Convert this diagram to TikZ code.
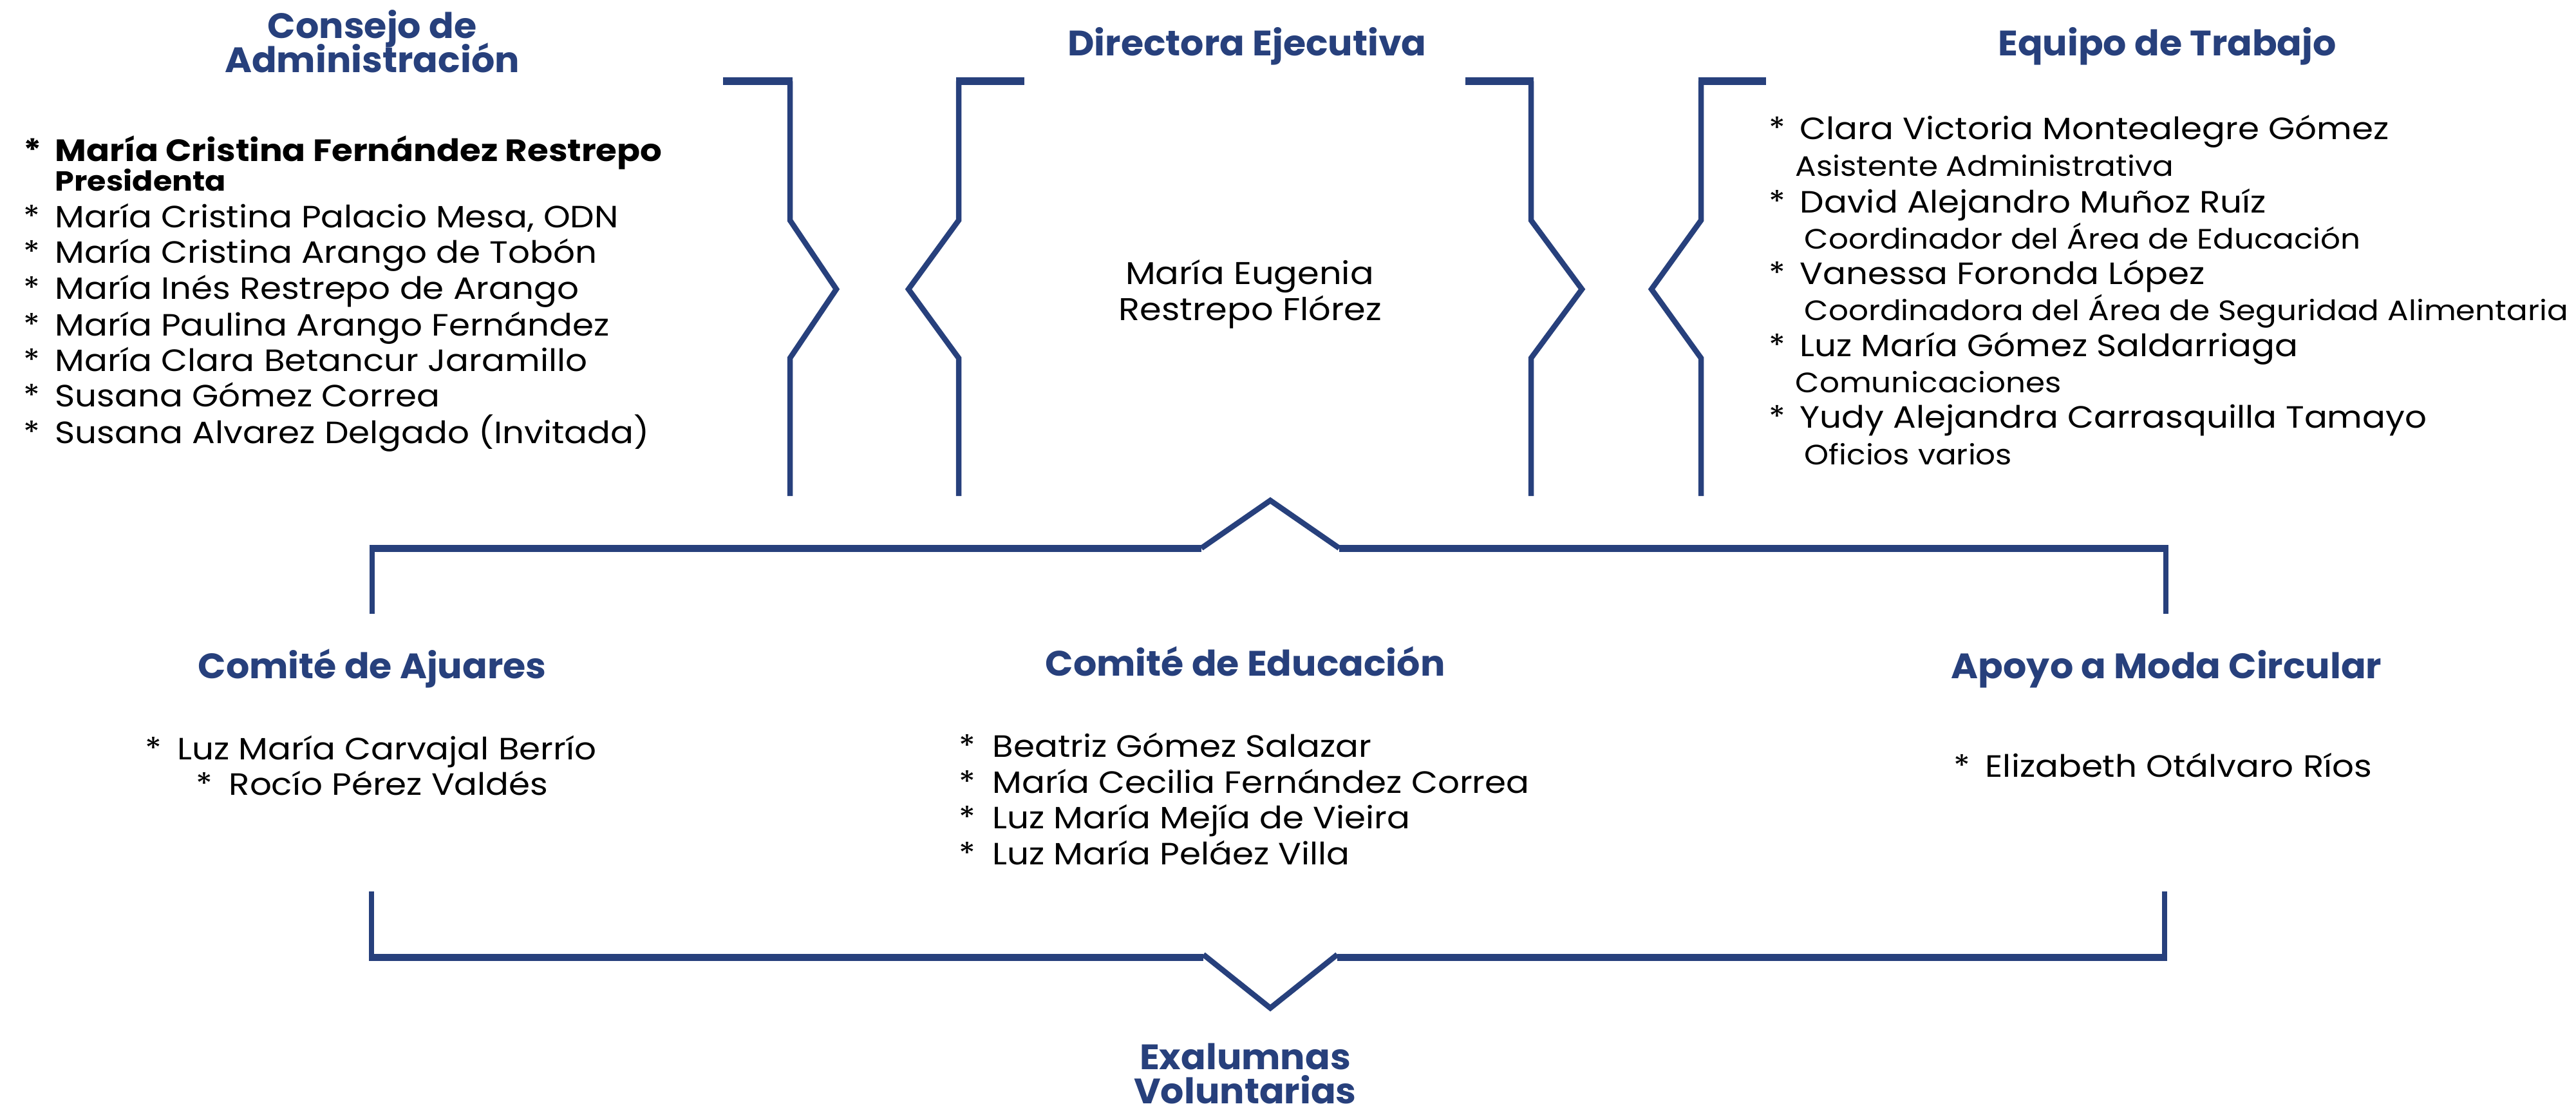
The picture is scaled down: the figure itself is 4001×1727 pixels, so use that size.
\documentclass[tikz,border=0pt]{standalone}
\usepackage{fontspec}
\setmainfont{Poppins}
\newfontfamily\bodyf[FakeStretch=1.11]{Poppins}
\newfontfamily\ttlf[FakeStretch=1.04]{Poppins}
\definecolor{navy}{RGB}{39,64,124}
\tikzset{
 ttl/.style={font=\ttlf\fontsize{15.6}{15.6}\selectfont\bfseries, text=navy, anchor=base, inner sep=0},
 bodyl/.style={font=\bodyf\fontsize{13.6}{15}\selectfont, anchor=base west, inner sep=0},
 boldl/.style={font=\bodyf\fontsize{13.6}{15}\selectfont\bfseries, anchor=base west, inner sep=0},
 subl/.style={font=\bodyf\fontsize{12.4}{14}\selectfont, anchor=base west, inner sep=0},
 presl/.style={font=\bodyf\fontsize{12.2}{13}\selectfont\bfseries, anchor=base west, inner sep=0},
 cname/.style={font=\bodyf\fontsize{13.9}{15}\selectfont, anchor=base, inner sep=0},
 brk/.style={draw=navy, line width=0.085cm, miter limit=10},
 bar/.style={draw=navy, line width=0.11cm},
}
\newcommand{\st}[1]{\makebox[#1][l]{*}}
\begin{document}
\begin{tikzpicture}[x=0.01cm,y=-0.01cm]
\useasboundingbox (0,0) rectangle (4001,1727);
% titles
\node[ttl] (t1a) at (578,59) {Consejo de};
\node[ttl] (t1b) at (578,112) {Administración};
\node[ttl] (t2) at (1937,86) {Directora Ejecutiva};
\node[ttl] (t3) at (3366,86) {Equipo de Trabajo};
\node[ttl] (t4) at (578,1053) {Comité de Ajuares};
\node[ttl] (t5) at (1934,1049) {Comité de Educación};
\node[ttl] (t6) at (3365,1053) {Apoyo a Moda Circular};
\node[ttl] (t7a) at (1934,1660) {Exalumnas};
\node[ttl] (t7b) at (1934,1713) {Voluntarias};
% Consejo list
\node[boldl] (c1) at (36,250) {\st{0.49cm}María Cristina Fernández Restrepo};
\node[presl] (c1p) at (85,296) {Presidenta};
\node[bodyl] (c2) at (36,353) {\st{0.49cm}María Cristina Palacio Mesa, ODN};
\node[bodyl] (c3) at (36,408) {\st{0.49cm}María Cristina Arango de Tobón};
\node[bodyl] (c4) at (36,464) {\st{0.49cm}María Inés Restrepo de Arango};
\node[bodyl] (c5) at (36,521) {\st{0.49cm}María Paulina Arango Fernández};
\node[bodyl] (c6) at (36,576) {\st{0.49cm}María Clara Betancur Jaramillo};
\node[bodyl] (c7) at (36,631) {\st{0.49cm}Susana Gómez Correa};
\node[bodyl] (c8) at (36,688) {\st{0.49cm}Susana Alvarez Delgado (Invitada)};
% Directora
\node[cname] (d1) at (1941,441) {María Eugenia};
\node[cname] (d2) at (1942,497) {Restrepo Flórez};
% Equipo
\node[bodyl] (e1) at (2747,216) {\st{0.48cm}Clara Victoria Montealegre Gómez};
\node[subl] (e1s) at (2788,273) {Asistente Administrativa};
\node[bodyl] (e2) at (2747,330) {\st{0.48cm}David Alejandro Muñoz Ruíz};
\node[subl] (e2s) at (2802,386) {Coordinador del Área de Educación};
\node[bodyl] (e3) at (2747,441) {\st{0.48cm}Vanessa Foronda López};
\node[subl] (e3s) at (2802,497) {Coordinadora del Área de Seguridad Alimentaria};
\node[bodyl] (e4) at (2747,553) {\st{0.48cm}Luz María Gómez Saldarriaga};
\node[subl] (e4s) at (2788,609) {Comunicaciones};
\node[bodyl] (e5) at (2747,664) {\st{0.48cm}Yudy Alejandra Carrasquilla Tamayo};
\node[subl] (e5s) at (2802,721) {Oficios varios};
% Ajuares
\node[bodyl] (a1) at (225,1179) {\st{0.50cm}Luz María Carvajal Berrío};
\node[bodyl] (a2) at (304,1234) {\st{0.51cm}Rocío Pérez Valdés};
% Educacion
\node[bodyl] (m1) at (1489,1175) {\st{0.52cm}Beatriz Gómez Salazar};
\node[bodyl] (m2) at (1489,1231) {\st{0.52cm}María Cecilia Fernández Correa};
\node[bodyl] (m3) at (1489,1286) {\st{0.52cm}Luz María Mejía de Vieira};
\node[bodyl] (m4) at (1489,1342) {\st{0.52cm}Luz María Peláez Villa};
% Apoyo
\node[bodyl] (p1) at (3034,1206) {\st{0.49cm}Elizabeth Otálvaro Ríos};
% brackets top
\draw[brk] (1227,126) -- (1227,342) -- (1299,449) -- (1227,556) -- (1227,770);
\draw[bar] (1123,126) -- (1231,126);
\draw[brk] (1489,126) -- (1489,342) -- (1411,449) -- (1489,556) -- (1489,770);
\draw[bar] (1485,126) -- (1591,126);
\draw[brk] (2378,126) -- (2378,342) -- (2457,449) -- (2378,556) -- (2378,770);
\draw[bar] (2276,126) -- (2382,126);
\draw[brk] (2642,126) -- (2642,342) -- (2565,449) -- (2642,556) -- (2642,770);
\draw[bar] (2638,126) -- (2743,126);
% middle bracket
\draw[brk] (578,953) -- (578,851);
\draw[brk] (1866,851) -- (1973,777) -- (2080,851);
\draw[brk] (3364,851) -- (3364,953);
\draw[bar] (574,851) -- (1866,851);
\draw[bar] (2080,851) -- (3368,851);
% bottom bracket
\draw[brk] (577,1384) -- (577,1486);
\draw[brk] (1869,1482) -- (1973,1565) -- (2077,1482);
\draw[brk] (3362,1384) -- (3362,1486);
\draw[bar] (573,1486) -- (1869,1486);
\draw[bar] (2077,1486) -- (3366,1486);
\end{tikzpicture}
\end{document}
